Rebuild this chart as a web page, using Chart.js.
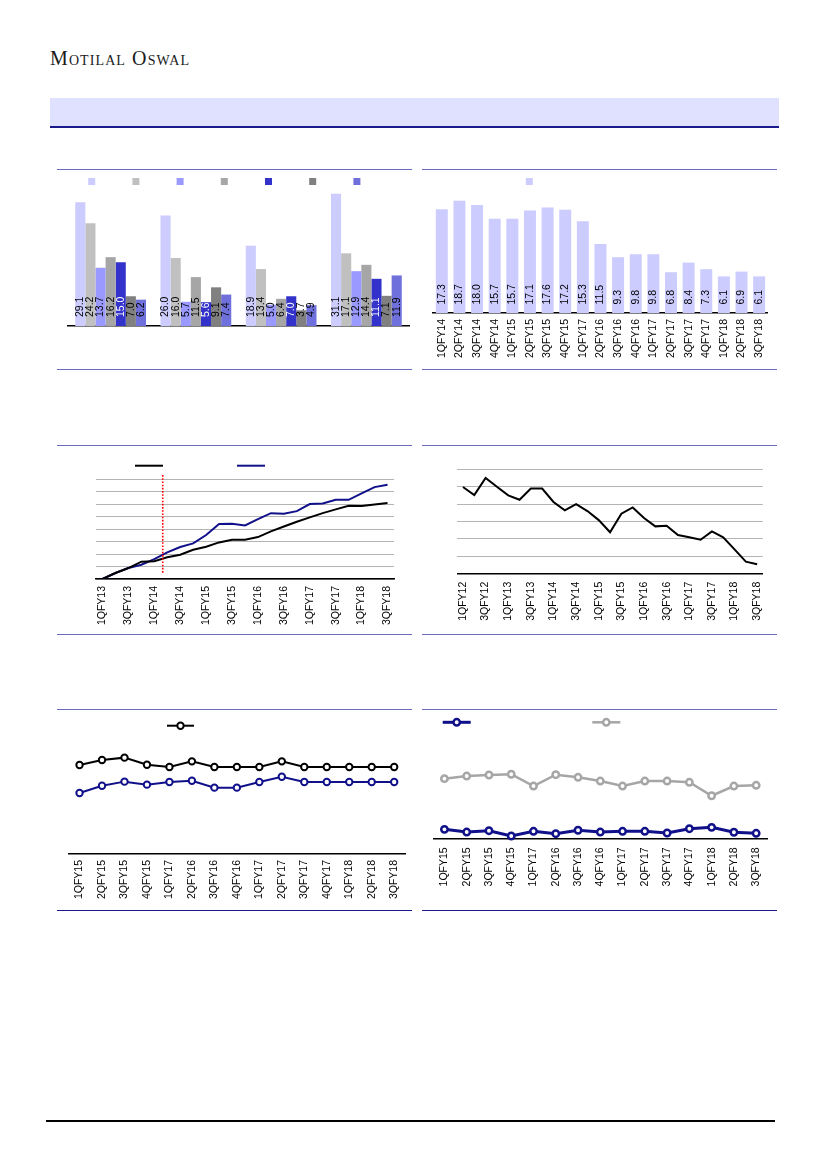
<!DOCTYPE html>
<html><head><meta charset="utf-8">
<script src="https://cdn.jsdelivr.net/npm/chart.js@4.4.0/dist/chart.umd.min.js"></script>
<style>
body{margin:0;background:#fff;width:827px;height:1169px;position:relative;overflow:hidden;font-family:'Liberation Sans',Arial,sans-serif;}
.abs{position:absolute;}
.logo{left:50px;top:47.5px;font-family:'Liberation Serif',serif;font-size:20px;line-height:20px;font-variant:small-caps;letter-spacing:1.1px;color:#1a1a1a;white-space:nowrap;}
.band{left:50px;top:98px;width:729px;height:27.5px;background:#e0e0ff;border-bottom:2px solid #1a1a8c;}
.rule{position:absolute;height:1.5px;background:#6b6bc0;width:355px;}
.rule.dark{background:#1a1a8c;}
.box{position:absolute;}
</style></head><body>
<div class="abs logo">Motilal Oswal</div>
<div class="abs band"></div>

<div class="rule" style="left:57px;top:168.5px"></div>
<div class="rule" style="left:422px;top:168.5px"></div>
<div class="rule" style="left:57px;top:368.5px"></div>
<div class="rule" style="left:422px;top:368.5px"></div>
<div class="rule" style="left:57px;top:444.5px"></div>
<div class="rule" style="left:422px;top:444.5px"></div>
<div class="rule" style="left:57px;top:633.5px"></div>
<div class="rule" style="left:422px;top:633.5px"></div>
<div class="rule" style="left:57px;top:708.5px"></div>
<div class="rule" style="left:422px;top:708.5px"></div>
<div class="rule dark" style="left:57px;top:909.5px"></div>
<div class="rule dark" style="left:422px;top:909.5px"></div>
<div class="abs" style="left:46px;top:1120px;width:729px;height:1.5px;background:#000"></div>

<div class="box" style="left:57px;top:170px;width:356px;height:198px"><canvas id="c1"></canvas></div>
<div class="box" style="left:422px;top:170px;width:356px;height:198px"><canvas id="c2"></canvas></div>
<div class="box" style="left:57px;top:446px;width:356px;height:187px"><canvas id="c3"></canvas></div>
<div class="box" style="left:422px;top:446px;width:356px;height:187px"><canvas id="c4"></canvas></div>
<div class="box" style="left:57px;top:710px;width:356px;height:199px"><canvas id="c5"></canvas></div>
<div class="box" style="left:422px;top:710px;width:356px;height:199px"><canvas id="c6"></canvas></div>

<script>
// ---------- DATA ----------
// Chart 1: grouped bars (4 groups x 7 series)
const groupCategories = ['A', 'B', 'C', 'D'];
const grp_s1 = [29.1, 26.0, 18.9, 31.1];
const grp_s2 = [24.2, 16.0, 13.4, 17.1];
const grp_s3 = [13.7, 5.7, 5.0, 12.9];
const grp_s4 = [16.2, 11.5, 6.4, 14.4];
const grp_s5 = [15.0, 5.6, 7.0, 11.1];
const grp_s6 = [7.0, 9.1, 3.7, 7.1];
const grp_s7 = [6.2, 7.4, 4.9, 11.9];

// Chart 2: quarterly bars
const q2Labels = ['1QFY14','2QFY14','3QFY14','4QFY14','1QFY15','2QFY15','3QFY15','4QFY15','1QFY17','2QFY16','3QFY16','4QFY16','1QFY17','2QFY17','3QFY17','4QFY17','1QFY18','2QFY18','3QFY18'];
const q2Values = [17.3, 18.7, 18.0, 15.7, 15.7, 17.1, 17.6, 17.2, 15.3, 11.5, 9.3, 9.8, 9.8, 6.8, 8.4, 7.3, 6.1, 6.9, 6.1];

// Chart 3: two cumulative lines, 1QFY13..3QFY18
const q3Labels = ['1QFY13','2QFY13','3QFY13','4QFY13','1QFY14','2QFY14','3QFY14','4QFY14','1QFY15','2QFY15','3QFY15','4QFY15','1QFY16','2QFY16','3QFY16','4QFY16','1QFY17','2QFY17','3QFY17','4QFY17','1QFY18','2QFY18','3QFY18'];
const q3Black = [0, 4.8, 8.8, 13.9, 14.2, 17.4, 19.5, 23.5, 25.9, 29.4, 31.6, 31.6, 33.7, 38.2, 42.2, 46.0, 49.5, 52.9, 55.9, 58.8, 58.6, 59.9, 61.0];
const q3Navy  = [0, 4.8, 8.8, 11.5, 16.0, 21.4, 25.7, 28.6, 35.3, 44.1, 44.4, 43.0, 48.1, 52.9, 52.4, 54.5, 60.2, 60.7, 63.6, 63.6, 68.7, 73.8, 75.7];
const q3Marker = 4.65; // position of the dotted reference line (category index)

// Chart 4: single line, 1QFY12..3QFY18
const q4Labels = ['1QFY12','2QFY12','3QFY12','4QFY12','1QFY13','2QFY13','3QFY13','4QFY13','1QFY14','2QFY14','3QFY14','4QFY14','1QFY15','2QFY15','3QFY15','4QFY15','1QFY16','2QFY16','3QFY16','4QFY16','1QFY17','2QFY17','3QFY17','4QFY17','1QFY18','2QFY18','3QFY18'];
const q4Values = [49.8, 45.2, 55.0, 50.0, 45.0, 42.5, 48.9, 48.9, 41.2, 36.4, 40.0, 36.0, 30.8, 23.8, 34.5, 38.1, 32.0, 27.2, 27.6, 22.2, 20.9, 19.5, 24.3, 20.9, 14.0, 6.9, 5.4];

// Chart 5 and 6: 1QFY15..3QFY18 (as labelled)
const q5Labels = ['1QFY15','2QFY15','3QFY15','4QFY15','1QFY17','2QFY16','3QFY16','4QFY16','1QFY17','2QFY17','3QFY17','4QFY17','1QFY18','2QFY18','3QFY18'];
const q5Black = [74.2, 78.3, 80.3, 74.4, 72.5, 77.2, 72.5, 72.5, 72.5, 77.2, 72.5, 72.5, 72.5, 72.5, 72.5];
const q5Navy  = [50.8, 56.9, 60.3, 57.8, 60.0, 61.1, 55.3, 55.3, 60.0, 64.4, 60.0, 60.0, 60.0, 60.0, 60.0];
const q6Navy  = [8.6, 6.0, 7.3, 2.2, 6.7, 4.4, 7.7, 6.0, 6.7, 6.7, 5.1, 9.2, 10.5, 5.8, 4.8];
const q6Gray  = [57.2, 59.7, 60.7, 61.4, 50.1, 61.0, 58.5, 54.9, 50.1, 54.9, 54.9, 53.7, 40.8, 50.1, 50.8];

// ---------- STYLE ----------
const barColors1 = ['#ccccff', '#c0c0c0', '#9999ff', '#a6a6a6', '#3333cc', '#808080', '#7070dd'];
const labelColors1 = ['#000', '#000', '#000', '#000', '#fff', '#000', '#000'];
const NAVY = '#10108a';
const TICK_FONT = {family: "'Liberation Sans', Arial, sans-serif", size: 10.5};

Chart.defaults.animation = false;
Chart.defaults.responsive = true;
Chart.defaults.maintainAspectRatio = false;
Chart.defaults.plugins.legend.display = false;
Chart.defaults.plugins.tooltip.enabled = false;
Chart.defaults.color = '#000';

// value labels inside bars, rotated, anchored at base
const barLabels = {
  id: 'barLabels',
  afterDatasetsDraw(chart, args, opts) {
    const ctx = chart.ctx;
    ctx.save();
    ctx.font = opts.font || "10.5px 'Liberation Sans', Arial, sans-serif";
    chart.data.datasets.forEach((ds, di) => {
      const meta = chart.getDatasetMeta(di);
      meta.data.forEach((bar, i) => {
        const v = ds.data[i];
        ctx.save();
        ctx.translate(bar.x, bar.base - (opts.offset || 8));
        ctx.rotate(-Math.PI / 2);
        ctx.fillStyle = (opts.colors && opts.colors[di]) || '#000';
        ctx.textAlign = 'left';
        ctx.textBaseline = 'middle';
        ctx.fillText(v.toFixed(1), 0, 0);
        ctx.restore();
      });
    });
    ctx.restore();
  }
};

// legend markers (legend texts are absent in the reference)
const markLegend = {
  id: 'markLegend',
  afterDraw(chart, args, opts) {
    const ctx = chart.ctx;
    (opts.items || []).forEach(it => {
      const ds = chart.data.datasets[it.ds];
      ctx.save();
      if (it.type === 'box') {
        ctx.fillStyle = ds.backgroundColor;
        ctx.fillRect(it.x - it.size / 2, it.y - it.size / 2, it.size, it.size);
      } else {
        ctx.strokeStyle = ds.borderColor;
        ctx.lineWidth = ds.borderWidth;
        ctx.beginPath();
        ctx.moveTo(it.x, it.y);
        ctx.lineTo(it.x + it.w, it.y);
        ctx.stroke();
        if (it.marker) {
          ctx.beginPath();
          ctx.arc(it.x + it.w / 2, it.y, ds.pointRadius, 0, Math.PI * 2);
          ctx.fillStyle = '#fff';
          ctx.fill();
          ctx.lineWidth = ds.pointBorderWidth;
          ctx.strokeStyle = ds.pointBorderColor;
          ctx.stroke();
        }
      }
      ctx.restore();
    });
  }
};

// dotted vertical reference line
const refLine = {
  id: 'refLine',
  afterDatasetsDraw(chart, args, opts) {
    const ctx = chart.ctx;
    const x = chart.scales.x.getPixelForValue(opts.at);
    const y1 = chart.scales.y.getPixelForValue(opts.from);
    const y2 = chart.scales.y.getPixelForValue(opts.to);
    ctx.save();
    ctx.strokeStyle = '#ff0000';
    ctx.lineWidth = 1.6;
    ctx.setLineDash([1.6, 1.6]);
    ctx.beginPath();
    ctx.moveTo(x, y1);
    ctx.lineTo(x, y2);
    ctx.stroke();
    ctx.restore();
  }
};

function xAxis(h, opts) {
  return Object.assign({
    afterFit: s => { s.height = h; },
    grid: {display: false, drawTicks: false},
    border: {display: true, color: '#000', width: 1.5},
    ticks: {display: true, font: TICK_FONT, color: '#000', minRotation: 90, maxRotation: 90, autoSkip: false, padding: 6}
  }, opts || {});
}

// ---------- Chart 1 ----------
const grpSeries = [grp_s1, grp_s2, grp_s3, grp_s4, grp_s5, grp_s6, grp_s7];
new Chart(document.getElementById('c1'), {
  type: 'bar',
  data: {
    labels: groupCategories,
    datasets: grpSeries.map((d, i) => ({
      label: 'Series ' + (i + 1), data: d, backgroundColor: barColors1[i],
      categoryPercentage: 0.83, barPercentage: 1
    }))
  },
  options: {
    layout: {padding: {left: 11, right: 4, top: 20, bottom: 0}},
    scales: {
      x: xAxis(42, {ticks: {display: false}}),
      y: {display: false, min: 0, max: 32}
    },
    plugins: {
      barLabels: {colors: labelColors1, offset: 9},
      markLegend: {items: barColors1.map((c, i) => ({ds: i, type: 'box', x: 34.7 + i * 44.2, y: 11.5, size: 7}))}
    }
  },
  plugins: [barLabels, markLegend]
});

// ---------- Chart 2 ----------
new Chart(document.getElementById('c2'), {
  type: 'bar',
  data: {
    labels: q2Labels,
    datasets: [{label: 'Series', data: q2Values, backgroundColor: '#ccccff', categoryPercentage: 1, barPercentage: 0.68}]
  },
  options: {
    layout: {padding: {left: 11, right: 10, top: 23, bottom: 0}},
    scales: {
      x: xAxis(55),
      y: {display: false, min: 0, max: 20}
    },
    plugins: {
      barLabels: {colors: ['#000'], offset: 8.5},
      markLegend: {items: [{ds: 0, type: 'box', x: 107.3, y: 11.5, size: 7}]}
    }
  },
  plugins: [barLabels, markLegend]
});

function everyOther(value, index) { return index % 2 === 0 ? this.getLabelForValue(value) : ''; }
function gridY(max) {
  return {
    min: 0, max: max,
    afterFit: s => { s.width = 0; },
    ticks: {display: false, stepSize: 10},
    grid: {color: '#b4b4b4', lineWidth: 1, drawTicks: false},
    border: {display: false}
  };
}

// ---------- Chart 3 ----------
new Chart(document.getElementById('c3'), {
  type: 'line',
  data: {
    labels: q3Labels,
    datasets: [
      {label: 'A', data: q3Black, borderColor: '#000', borderWidth: 2, pointRadius: 0, tension: 0},
      {label: 'B', data: q3Navy, borderColor: NAVY, borderWidth: 2, pointRadius: 0, tension: 0}
    ]
  },
  options: {
    layout: {padding: {left: 39, right: 19, top: 33.4, bottom: 0}},
    scales: {
      x: xAxis(54, {offset: true, ticks: {display: true, font: TICK_FONT, color: '#000', minRotation: 90, maxRotation: 90, autoSkip: false, padding: 7, callback: everyOther}}),
      y: gridY(80)
    },
    plugins: {
      refLine: {at: q3Marker, from: 83.5, to: 4.8},
      markLegend: {items: [{ds: 0, type: 'line', x: 78, y: 19.7, w: 28}, {ds: 1, type: 'line', x: 180, y: 19.7, w: 28}]}
    }
  },
  plugins: [refLine, markLegend]
});

// ---------- Chart 4 ----------
new Chart(document.getElementById('c4'), {
  type: 'line',
  data: {
    labels: q4Labels,
    datasets: [{label: 'A', data: q4Values, borderColor: '#000', borderWidth: 2, pointRadius: 0, tension: 0}]
  },
  options: {
    layout: {padding: {left: 35.3, right: 13, top: 23.3, bottom: 0}},
    scales: {
      x: xAxis(59.3, {offset: true, ticks: {display: true, font: TICK_FONT, color: '#000', minRotation: 90, maxRotation: 90, autoSkip: false, padding: 8, callback: everyOther}}),
      y: gridY(60)
    }
  }
});

// ---------- Chart 5 ----------
new Chart(document.getElementById('c5'), {
  type: 'line',
  data: {
    labels: q5Labels,
    datasets: [
      {label: 'A', data: q5Black, borderColor: '#000', borderWidth: 2, pointRadius: 3.2, pointBorderWidth: 2, pointBackgroundColor: '#fff', pointBorderColor: '#000', tension: 0, clip: false},
      {label: 'B', data: q5Navy, borderColor: NAVY, borderWidth: 2, pointRadius: 3.2, pointBorderWidth: 2, pointBackgroundColor: '#fff', pointBorderColor: NAVY, tension: 0, clip: false}
    ]
  },
  options: {
    layout: {padding: {left: 11.3, right: 6.3, top: 24, bottom: 0}},
    scales: {
      x: xAxis(55, {offset: true}),
      y: {display: false, min: 0, max: 100}
    },
    plugins: {
      markLegend: {items: [{ds: 0, type: 'line', x: 110, y: 15.7, w: 27, marker: true}]}
    }
  },
  plugins: [markLegend]
});

// ---------- Chart 6 ----------
new Chart(document.getElementById('c6'), {
  type: 'line',
  data: {
    labels: q5Labels,
    datasets: [
      {label: 'A', data: q6Navy, borderColor: NAVY, borderWidth: 3, pointRadius: 3.2, pointBorderWidth: 2.5, pointBackgroundColor: '#fff', pointBorderColor: NAVY, tension: 0, clip: false},
      {label: 'B', data: q6Gray, borderColor: '#a6a6a6', borderWidth: 2.5, pointRadius: 3.2, pointBorderWidth: 2.5, pointBackgroundColor: '#fff', pointBorderColor: '#a6a6a6', tension: 0, clip: false}
    ]
  },
  options: {
    layout: {padding: {left: 11.3, right: 7, top: 24, bottom: 0}},
    scales: {
      x: xAxis(70.7, {offset: true, ticks: {display: true, font: TICK_FONT, color: '#000', minRotation: 90, maxRotation: 90, autoSkip: false, padding: 9}}),
      y: {display: false, min: 0, max: 100}
    },
    plugins: {
      markLegend: {items: [{ds: 0, type: 'line', x: 20.7, y: 12.3, w: 28, marker: true}, {ds: 1, type: 'line', x: 170.3, y: 12.3, w: 28, marker: true}]}
    }
  },
  plugins: [markLegend]
});
</script>
</body></html>
